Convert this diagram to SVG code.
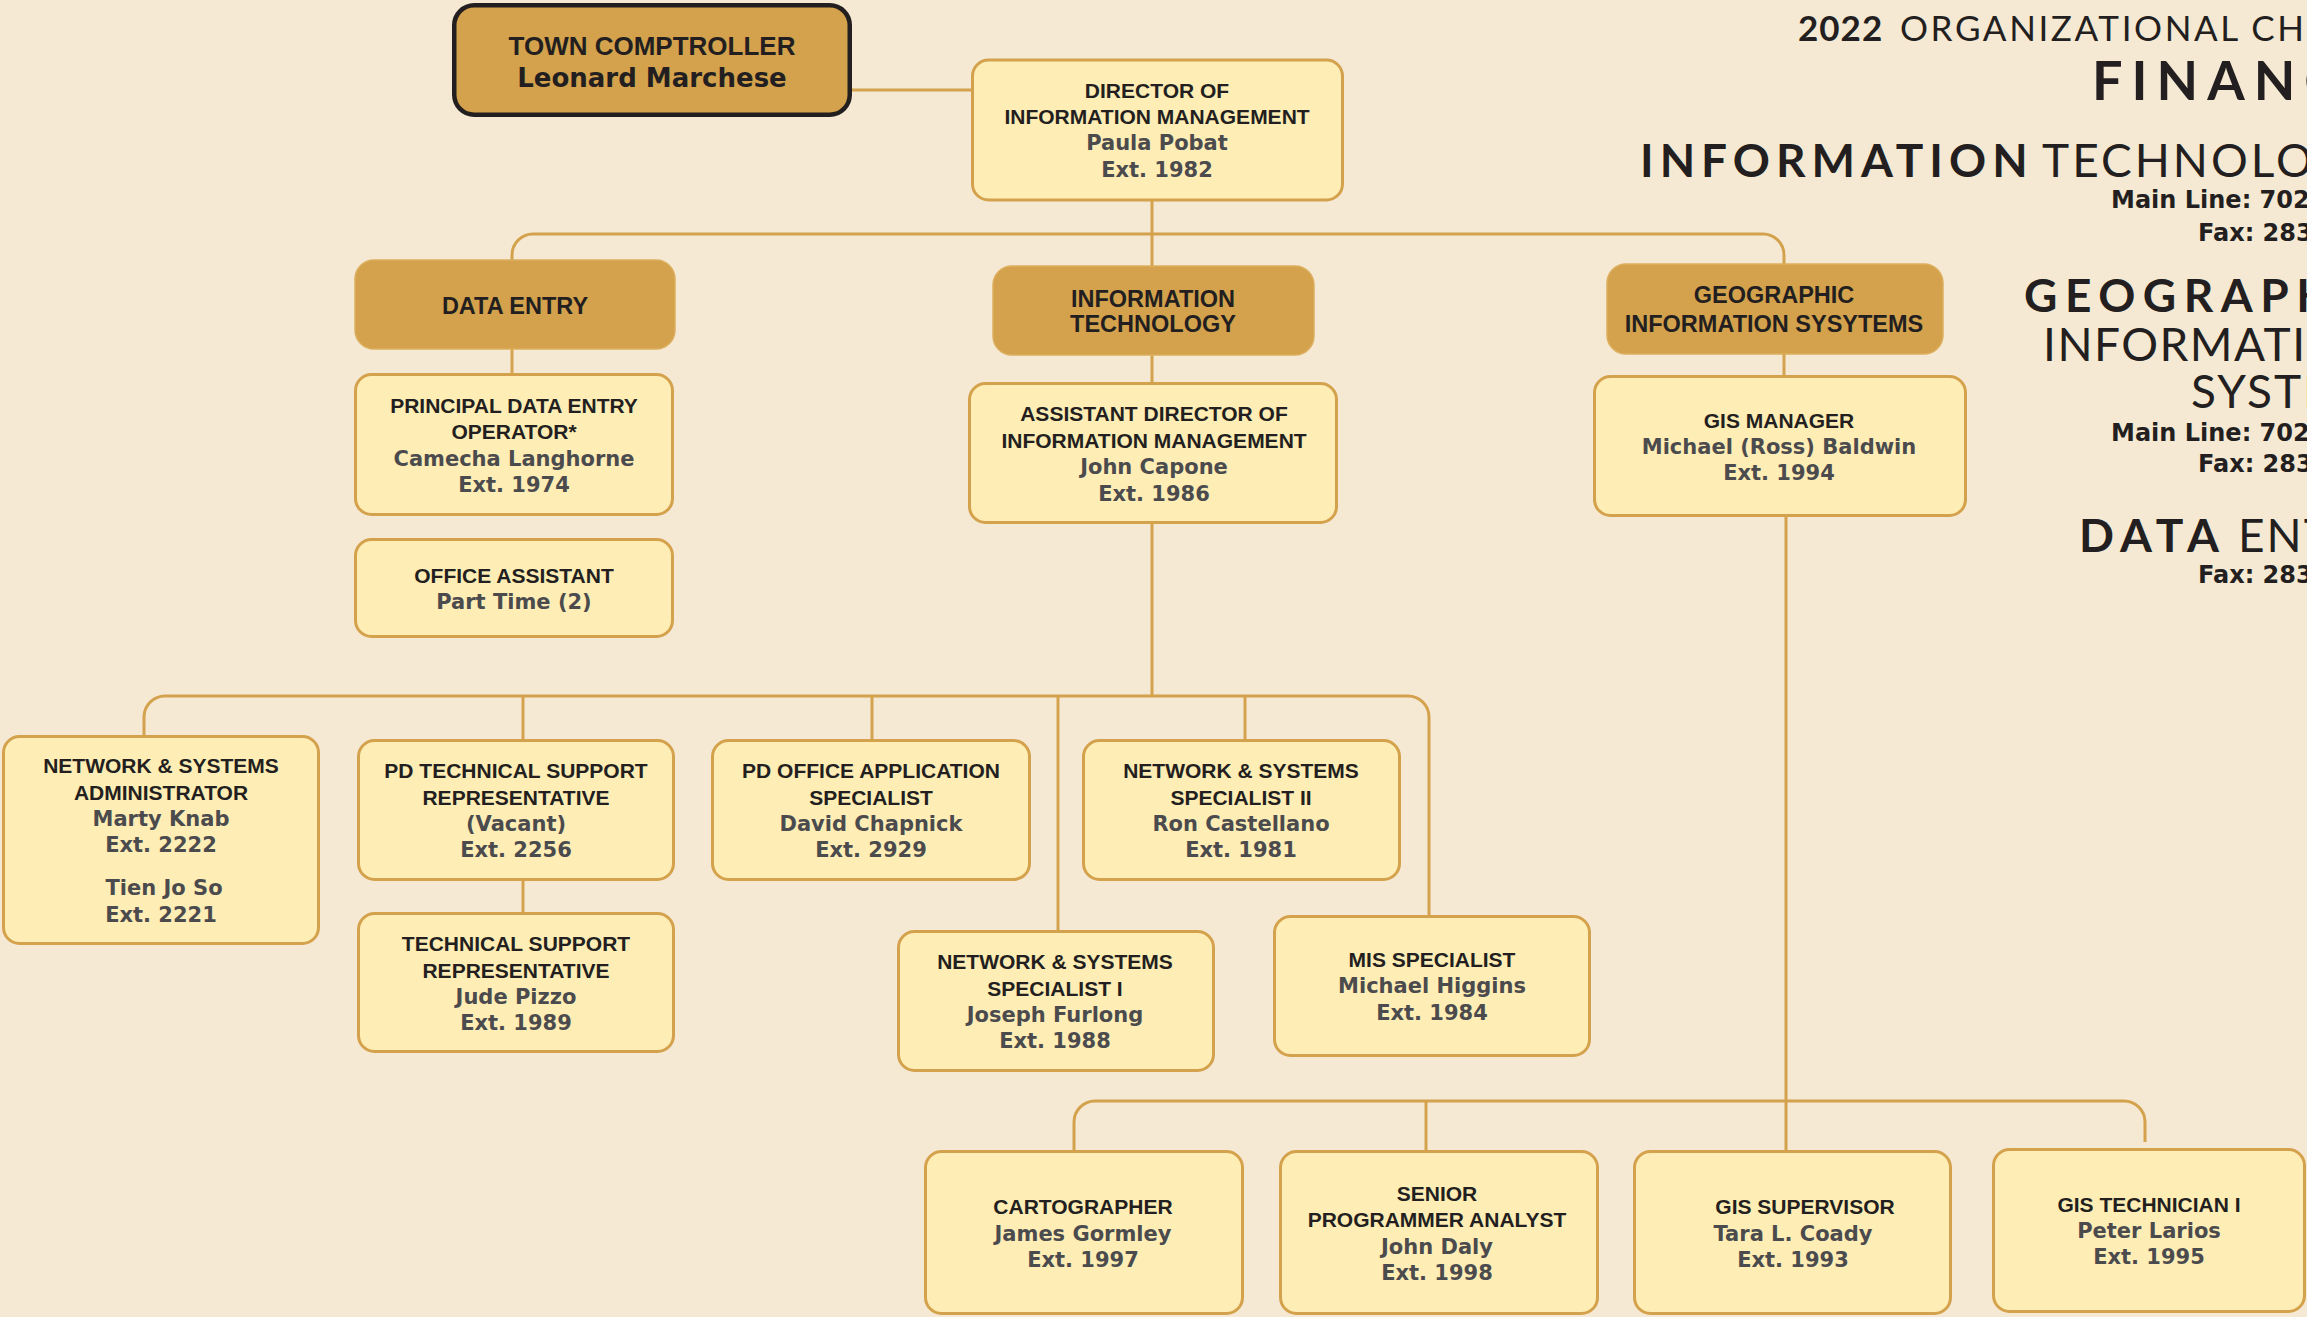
<svg xmlns="http://www.w3.org/2000/svg" width="2307" height="1317" viewBox="0 0 2307 1317">
<style>
.bg{fill:#f5e9d4}
.hdr{fill:#d4a24c;stroke:#dcae5e;stroke-width:1.5}
.box{fill:#feedb5;stroke:#d4a24c;stroke-width:3}
.top{fill:#d4a24c;stroke:#231f20;stroke-width:4.5}
.conn path{fill:none;stroke:#d4a24c;stroke-width:3}
text{text-anchor:middle}
.t{font-family:"Liberation Sans",Arial,sans-serif;font-weight:bold;font-size:21px;fill:#231f20}
.n{font-family:"DejaVu Sans",Verdana,sans-serif;font-weight:bold;font-size:21px;fill:#4b4b4e}
.h{font-family:"Liberation Sans",Arial,sans-serif;font-weight:bold;font-size:23.5px;fill:#231f20}
.g{font-family:Lato,"Open Sans",sans-serif;fill:#231f20;text-anchor:start}
.gb{font-weight:700}
.gr{font-weight:400}
.c{font-family:"DejaVu Sans",Verdana,sans-serif;font-weight:bold;font-size:24px;fill:#231f20;text-anchor:start}
</style>
<rect class="bg" x="0" y="0" width="2307" height="1317"/>

<g id="connectors" class="conn">
<path d="M852,90 H971"/>
<path d="M1152,201 V266"/>
<path d="M512,260 V255 A21,21 0 0 1 533,234 H1763 A21,21 0 0 1 1784,255 V264"/>
<path d="M512,349 V374"/>
<path d="M1152,355 V383"/>
<path d="M1784,354 V376"/>
<path d="M1152,523 V696"/>
<path d="M144,736 V717 A21,21 0 0 1 165,696 H1408 A21,21 0 0 1 1429,717 V916"/>
<path d="M523,696 V740"/>
<path d="M872,696 V740"/>
<path d="M1058,696 V931"/>
<path d="M1245,696 V740"/>
<path d="M523,880 V913"/>
<path d="M1786,516 V1151"/>
<path d="M1074,1151 V1122 A21,21 0 0 1 1095,1101 H2124 A21,21 0 0 1 2145,1122 V1142"/>
<path d="M1426,1101 V1151"/>
</g>

<g id="town-comptroller">
<rect class="top" x="454.25" y="5.25" width="395.5" height="109.5" rx="20"/>
<text class="t" x="652" y="55" style="font-size:26px">TOWN COMPTROLLER</text>
<text class="n" x="652" y="87" style="font-size:26px;fill:#231f20">Leonard Marchese</text>
</g>

<g id="director">
<rect class="box" x="972.5" y="60" width="370" height="140" rx="16"/>
<text class="t" x="1157" y="98">DIRECTOR OF</text>
<text class="t" x="1157" y="124">INFORMATION MANAGEMENT</text>
<text class="n" x="1157" y="150">Paula Pobat</text>
<text class="n" x="1157" y="177">Ext. 1982</text>
</g>

<g id="data-entry">
<rect class="hdr" x="355" y="260" width="320" height="89" rx="19"/>
<text class="h" x="515" y="314">DATA ENTRY</text>
</g>

<g id="information-technology">
<rect class="hdr" x="993" y="266" width="321" height="89" rx="19"/>
<text class="h" x="1153" y="307">INFORMATION</text>
<text class="h" x="1153" y="332">TECHNOLOGY</text>
</g>

<g id="gis">
<rect class="hdr" x="1607" y="264" width="336" height="90" rx="19"/>
<text class="h" x="1774" y="303">GEOGRAPHIC</text>
<text class="h" x="1774" y="332">INFORMATION SYSYTEMS</text>
</g>

<g id="principal-data-entry">
<rect class="box" x="355.5" y="374.5" width="317" height="140" rx="16"/>
<text class="t" x="514" y="413">PRINCIPAL DATA ENTRY</text>
<text class="t" x="514" y="439">OPERATOR*</text>
<text class="n" x="514" y="466">Camecha Langhorne</text>
<text class="n" x="514" y="492">Ext. 1974</text>
</g>

<g id="office-assistant">
<rect class="box" x="355.5" y="539.5" width="317" height="97" rx="16"/>
<text class="t" x="514" y="583">OFFICE ASSISTANT</text>
<text class="n" x="514" y="609">Part Time (2)</text>
</g>

<g id="assistant-director">
<rect class="box" x="969.5" y="383.5" width="367" height="139" rx="16"/>
<text class="t" x="1154" y="421">ASSISTANT DIRECTOR OF</text>
<text class="t" x="1154" y="448">INFORMATION MANAGEMENT</text>
<text class="n" x="1154" y="474">John Capone</text>
<text class="n" x="1154" y="501">Ext. 1986</text>
</g>

<g id="gis-manager">
<rect class="box" x="1594.5" y="376.5" width="371" height="139" rx="16"/>
<text class="t" x="1779" y="428">GIS MANAGER</text>
<text class="n" x="1779" y="454">Michael (Ross) Baldwin</text>
<text class="n" x="1779" y="480">Ext. 1994</text>
</g>

<g id="network-systems-administrator">
<rect class="box" x="3.5" y="736.5" width="315" height="207" rx="16"/>
<text class="t" x="161" y="773">NETWORK &amp; SYSTEMS</text>
<text class="t" x="161" y="800">ADMINISTRATOR</text>
<text class="n" x="161" y="826">Marty Knab</text>
<text class="n" x="161" y="852">Ext. 2222</text>
<text class="n" x="164" y="895">Tien Jo So</text>
<text class="n" x="161" y="922">Ext. 2221</text>
</g>

<g id="pd-technical-support">
<rect class="box" x="358.5" y="740.5" width="315" height="139" rx="16"/>
<text class="t" x="516" y="778">PD TECHNICAL SUPPORT</text>
<text class="t" x="516" y="805">REPRESENTATIVE</text>
<text class="n" x="516" y="831">(Vacant)</text>
<text class="n" x="516" y="857">Ext. 2256</text>
</g>

<g id="technical-support">
<rect class="box" x="358.5" y="913.5" width="315" height="138" rx="16"/>
<text class="t" x="516" y="951">TECHNICAL SUPPORT</text>
<text class="t" x="516" y="978">REPRESENTATIVE</text>
<text class="n" x="516" y="1004">Jude Pizzo</text>
<text class="n" x="516" y="1030">Ext. 1989</text>
</g>

<g id="pd-office-application">
<rect class="box" x="712.5" y="740.5" width="317" height="139" rx="16"/>
<text class="t" x="871" y="778">PD OFFICE APPLICATION</text>
<text class="t" x="871" y="805">SPECIALIST</text>
<text class="n" x="871" y="831">David Chapnick</text>
<text class="n" x="871" y="857">Ext. 2929</text>
</g>

<g id="network-systems-specialist-ii">
<rect class="box" x="1083.5" y="740.5" width="316" height="139" rx="16"/>
<text class="t" x="1241" y="778">NETWORK &amp; SYSTEMS</text>
<text class="t" x="1241" y="805">SPECIALIST II</text>
<text class="n" x="1241" y="831">Ron Castellano</text>
<text class="n" x="1241" y="857">Ext. 1981</text>
</g>

<g id="network-systems-specialist-i">
<rect class="box" x="898.5" y="931.5" width="315" height="139" rx="16"/>
<text class="t" x="1055" y="969">NETWORK &amp; SYSTEMS</text>
<text class="t" x="1055" y="996">SPECIALIST I</text>
<text class="n" x="1055" y="1022">Joseph Furlong</text>
<text class="n" x="1055" y="1048">Ext. 1988</text>
</g>

<g id="mis-specialist">
<rect class="box" x="1274.5" y="916.5" width="315" height="139" rx="16"/>
<text class="t" x="1432" y="967">MIS SPECIALIST</text>
<text class="n" x="1432" y="993">Michael Higgins</text>
<text class="n" x="1432" y="1020">Ext. 1984</text>
</g>

<g id="cartographer">
<rect class="box" x="925.5" y="1151.5" width="317" height="162" rx="16"/>
<text class="t" x="1083" y="1214">CARTOGRAPHER</text>
<text class="n" x="1083" y="1241">James Gormley</text>
<text class="n" x="1083" y="1267">Ext. 1997</text>
</g>

<g id="senior-programmer-analyst">
<rect class="box" x="1280.5" y="1151.5" width="317" height="162" rx="16"/>
<text class="t" x="1437" y="1201">SENIOR</text>
<text class="t" x="1437" y="1227">PROGRAMMER ANALYST</text>
<text class="n" x="1437" y="1254">John Daly</text>
<text class="n" x="1437" y="1280">Ext. 1998</text>
</g>

<g id="gis-supervisor">
<rect class="box" x="1634.5" y="1151.5" width="316" height="162" rx="16"/>
<text class="t" x="1805" y="1214">GIS SUPERVISOR</text>
<text class="n" x="1793" y="1241">Tara L. Coady</text>
<text class="n" x="1793" y="1267">Ext. 1993</text>
</g>

<g id="gis-technician">
<rect class="box" x="1993.5" y="1149.5" width="311" height="162" rx="16"/>
<text class="t" x="2149" y="1212">GIS TECHNICIAN I</text>
<text class="n" x="2149" y="1238">Peter Larios</text>
<text class="n" x="2149" y="1264">Ext. 1995</text>
</g>

<g id="heading">
<text class="g gb" x="1798" y="41" font-size="35" letter-spacing="1">2022</text>
<text class="g gr" x="1900" y="41" font-size="35" letter-spacing="2.6">ORGANIZATIONAL CH</text>
<text class="g gb" x="2092" y="100" font-size="54" letter-spacing="9">FINANC</text>
<text class="g gb" x="1640" y="177" font-size="46" letter-spacing="6">INFORMATION</text>
<text class="g gr" x="2042" y="177" font-size="46" letter-spacing="3">TECHNOLO</text>
<text class="c" x="2111" y="208">Main Line: 702</text>
<text class="c" x="2198" y="241">Fax: 283</text>
<text class="g gb" x="2024" y="312" font-size="46" letter-spacing="7.5">GEOGRAPH</text>
<text class="g gr" x="2043" y="361" font-size="46" letter-spacing="1.5">INFORMATI</text>
<text class="g gr" x="2191" y="408" font-size="46" letter-spacing="2">SYSTE</text>
<text class="c" x="2111" y="441">Main Line: 702</text>
<text class="c" x="2198" y="472">Fax: 283</text>
<text class="g gb" x="2079" y="552" font-size="46" letter-spacing="7">DATA</text>
<text class="g gr" x="2238" y="552" font-size="46" letter-spacing="2">ENT</text>
<text class="c" x="2198" y="583">Fax: 283</text>
</g>
</svg>
